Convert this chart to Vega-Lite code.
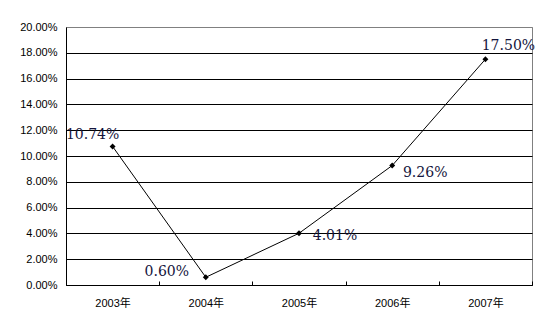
{
  "$schema": "https://vega.github.io/schema/vega-lite/v6.json",
  "width": 466,
  "height": 258,
  "autosize": "none",
  "padding": {"left": 66, "top": 27, "right": 13, "bottom": 46},
  "background": "white",
  "config": {"view": {"stroke": "#808080", "strokeWidth": 1}},
  "data": {"values": [
    {"year": "2003年", "rate": 0.1074},
    {"year": "2004年", "rate": 0.006},
    {"year": "2005年", "rate": 0.0401},
    {"year": "2006年", "rate": 0.0926},
    {"year": "2007年", "rate": 0.175}
  ]},
  "encoding": {
    "x": {"field": "year", "type": "nominal", "sort": null,
      "scale": {"paddingInner": 0, "paddingOuter": 0},
      "axis": {"title": null, "labelAngle": 0, "tickBand": "extent", "tickSize": -4, "tickColor": "black",
        "domainColor": "black", "labelPadding": 16, "labelFont": "Liberation Sans, Noto Sans CJK SC",
        "labelFontSize": 11, "labelColor": "#000", "grid": false}},
    "y": {"field": "rate", "type": "quantitative",
      "scale": {"domain": [0, 0.2], "nice": false},
      "axis": {"title": null, "values": [0, 0.02, 0.04, 0.06, 0.08, 0.1, 0.12, 0.14, 0.16, 0.18, 0.2],
        "format": ".2%", "ticks": false, "labelPadding": 9, "domainColor": "black",
        "gridColor": {"condition": {"test": "datum.value >= 0.199", "value": "#808080"}, "value": "black"},
        "gridOpacity": 1, "labelFont": "Liberation Sans", "labelFontSize": 11, "labelColor": "#000"}}
  },
  "layer": [
    {"mark": {"type": "line", "color": "black", "strokeWidth": 1}},
    {"mark": {"type": "point", "shape": "diamond", "filled": true, "color": "black", "size": 35, "opacity": 1}},
    {"transform": [{"filter": "datum.year == '2003年'"}],
     "mark": {"type": "text", "font": "DejaVu Serif", "fontSize": 14, "color": "#14143c", "align": "center", "baseline": "middle", "dx": -20, "dy": -11},
     "encoding": {"text": {"field": "rate", "format": ".2%"}}},
    {"transform": [{"filter": "datum.year == '2004年'"}],
     "mark": {"type": "text", "font": "DejaVu Serif", "fontSize": 14, "color": "#14143c", "align": "center", "baseline": "middle", "dx": -39, "dy": -5},
     "encoding": {"text": {"field": "rate", "format": ".2%"}}},
    {"transform": [{"filter": "datum.year == '2005年'"}],
     "mark": {"type": "text", "font": "DejaVu Serif", "fontSize": 14, "color": "#14143c", "align": "center", "baseline": "middle", "dx": 36, "dy": 3},
     "encoding": {"text": {"field": "rate", "format": ".2%"}}},
    {"transform": [{"filter": "datum.year == '2006年'"}],
     "mark": {"type": "text", "font": "DejaVu Serif", "fontSize": 14, "color": "#14143c", "align": "center", "baseline": "middle", "dx": 33, "dy": 7},
     "encoding": {"text": {"field": "rate", "format": ".2%"}}},
    {"transform": [{"filter": "datum.year == '2007年'"}],
     "mark": {"type": "text", "font": "DejaVu Serif", "fontSize": 14, "color": "#14143c", "align": "center", "baseline": "middle", "dx": 23, "dy": -13},
     "encoding": {"text": {"field": "rate", "format": ".2%"}}}
  ]
}
